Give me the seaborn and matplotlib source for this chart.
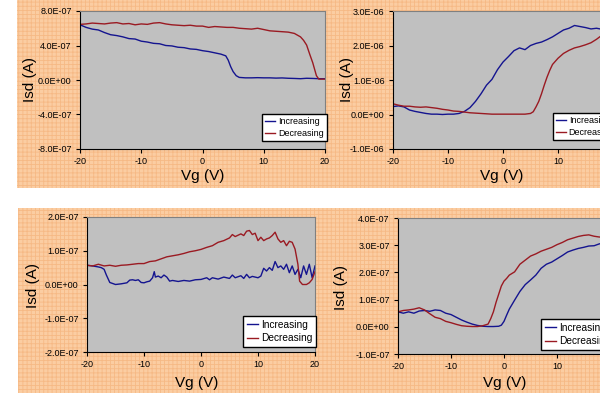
import matplotlib
matplotlib.use("Agg")
import matplotlib.pyplot as plt
from matplotlib.patches import Rectangle
from matplotlib.ticker import FuncFormatter, MultipleLocator
import numpy as np
import seaborn as sn

# ---- data (Isd in units of 1e-7 A or 1e-6 A, see *_scale) ----
# top left
tl_scale = 1e-7
tl_vg_inc = [-20, -20, -19, -18, -17, -16, -15, -14, -13, -12, -11, -10, -9, -8, -7, -6, -5, -4, -3, -2, -1,
             0, 1, 2, 3, 3.8, 4.2, 4.6, 5.0, 5.5, 6, 7, 8, 9, 10, 11, 12, 13, 14, 15, 16, 17, 18, 19, 20]
tl_isd_inc = [-5.5, 6.4, 6.1, 5.9, 5.8, 5.5, 5.25, 5.15, 5.0, 4.8, 4.75, 4.5, 4.4, 4.25, 4.2, 4.0, 3.95, 3.8, 3.75, 3.6, 3.55,
              3.4, 3.3, 3.15, 3.0, 2.8, 2.3, 1.55, 0.97, 0.5, 0.3, 0.25, 0.25, 0.27, 0.25, 0.25, 0.22, 0.24, 0.2, 0.18, 0.15, 0.2, 0.18, 0.15, 0.15]
tl_vg_dec = [-20, -19, -18, -17, -16, -15, -14, -13, -12, -11, -10, -9, -8, -7, -6, -5, -4, -3, -2, -1,
             0, 1, 2, 3, 4, 5, 6, 7, 8, 9, 10, 11, 12, 13, 14, 15, 16, 16.5, 17, 17.5, 18, 18.6, 19, 20]
tl_isd_dec = [6.45, 6.5, 6.6, 6.55, 6.5, 6.6, 6.65, 6.5, 6.55, 6.4, 6.5, 6.45, 6.6, 6.65, 6.5, 6.4, 6.35, 6.3, 6.35, 6.25,
              6.25, 6.1, 6.2, 6.15, 6.1, 6.1, 6.0, 5.95, 5.9, 6.0, 5.85, 5.7, 5.65, 5.6, 5.55, 5.4, 5.0, 4.6, 4.05, 3.0, 2.0, 0.5, 0.1, 0.1]

# top right
tr_scale = 1e-6
tr_vg_inc = [-20, -20, -19, -18, -17, -16, -15, -14, -13, -12, -11, -10, -9, -8, -7, -6, -5, -4, -3, -2, -1,
             0, 1, 2, 3, 4, 5, 6, 7, 8, 9, 10, 11, 12, 13, 14, 15, 16, 17, 18, 19, 20]
tr_isd_inc = [-1.2, 0.23, 0.25, 0.22, 0.13, 0.09, 0.06, 0.03, 0.01, 0.01, 0.0, 0.01, 0.01, 0.03, 0.09, 0.2, 0.38, 0.6, 0.85, 1.02, 1.3,
              1.52, 1.68, 1.85, 1.93, 1.88, 2.0, 2.06, 2.1, 2.17, 2.25, 2.35, 2.45, 2.5, 2.58, 2.55, 2.52, 2.48, 2.5, 2.47, 2.5, 2.48]
tr_vg_dec = [-20, -19, -18, -17, -16, -15, -14, -13, -12, -11, -10, -9, -8, -7, -6, -5, -4, -3, -2, -1,
             0, 1, 2, 3, 4, 5, 5.5, 6, 6.5, 7, 7.5, 8, 8.5, 9, 10, 11, 12, 13, 14, 15, 16, 17, 18, 19, 20]
tr_isd_dec = [0.31, 0.27, 0.24, 0.24, 0.22, 0.21, 0.22, 0.2, 0.18, 0.15, 0.13, 0.1, 0.09, 0.07, 0.05, 0.04, 0.03, 0.02, 0.01, 0.01,
              0.01, 0.01, 0.01, 0.01, 0.01, 0.03, 0.08, 0.22, 0.38, 0.6, 0.85, 1.08, 1.28, 1.45, 1.63, 1.77, 1.86, 1.93, 1.97, 2.02, 2.08, 2.18, 2.3, 2.38, 2.45]

# bottom left
bl_scale = 1e-7
bl_vg_inc = [-20, -20, -19, -18, -17.5, -17, -16.6, -16, -15, -14, -13, -12.5, -12, -11.5, -11, -10.5, -10, -9.5, -9, -8.5,
             -8.2, -8, -7.5, -7, -6.5, -6, -5.5, -5, -4, -3, -2, -1, 0, 1, 1.5, 2, 3, 4, 5, 5.5, 6, 7, 7.5, 8, 8.5, 9,
             10, 10.5, 11, 11.5, 12, 12.5, 13, 13.5, 14, 14.5, 15, 15.5, 16, 16.5, 17, 17.5, 18, 18.5, 19, 19.5, 20]
bl_isd_inc = [-2.5, 0.57, 0.55, 0.52, 0.5, 0.45, 0.28, 0.06, 0.0, 0.02, 0.05, 0.13, 0.14, 0.12, 0.14, 0.06, 0.05, 0.08, 0.1, 0.2,
              0.38, 0.22, 0.25, 0.2, 0.28, 0.22, 0.1, 0.12, 0.09, 0.12, 0.1, 0.14, 0.15, 0.2, 0.14, 0.2, 0.16, 0.22, 0.18, 0.28, 0.2, 0.26, 0.18, 0.3, 0.2, 0.24,
              0.2, 0.25, 0.48, 0.4, 0.5, 0.42, 0.68, 0.5, 0.55, 0.45, 0.6, 0.35, 0.55, 0.3, 0.45, 0.2, 0.55, 0.3, 0.6, 0.2, 0.55]
bl_vg_dec = [-20, -19, -18, -17, -16, -15, -14, -13, -12, -11, -10, -9, -8, -7, -6, -5, -4, -3, -2, -1,
             0, 1, 2, 3, 4, 5, 5.5, 6, 7, 7.5, 8, 8.5, 9, 9.5, 10, 10.5, 11, 11.5, 12, 12.5, 13, 13.5, 14, 14.5,
             15, 15.5, 16, 16.5, 17, 17.3, 17.8, 18.5, 19, 19.5, 20]
bl_isd_dec = [0.57, 0.55, 0.6, 0.55, 0.57, 0.54, 0.57, 0.58, 0.6, 0.62, 0.62, 0.68, 0.7, 0.76, 0.82, 0.85, 0.88, 0.92, 0.97, 1.0,
              1.04, 1.1, 1.15, 1.25, 1.3, 1.38, 1.48, 1.42, 1.5, 1.45, 1.58, 1.6, 1.48, 1.52, 1.3, 1.4, 1.3, 1.35, 1.38, 1.45, 1.55, 1.35, 1.25, 1.3,
              1.15, 1.28, 1.25, 1.05, 0.6, 0.1, 0.0, 0.0, 0.05, 0.15, 0.38]

# bottom right
br_scale = 1e-7
br_vg_inc = [-20, -20, -19, -18, -17, -16, -15, -14, -13, -12, -11, -10, -9, -8, -7, -6, -5, -4, -3, -2, -1, -0.5,
             0, 0.5, 1, 2, 3, 4, 5, 6, 7, 8, 9, 10, 11, 12, 13, 14, 15, 16, 17, 18, 19, 20]
br_isd_inc = [-0.3, 0.55, 0.5, 0.55, 0.5, 0.58, 0.6, 0.57, 0.62, 0.6, 0.5, 0.45, 0.35, 0.25, 0.17, 0.1, 0.05, 0.02, 0.01, 0.01, 0.02, 0.06,
              0.2, 0.43, 0.65, 0.98, 1.3, 1.55, 1.72, 1.9, 2.15, 2.3, 2.38, 2.5, 2.62, 2.75, 2.82, 2.88, 2.92, 2.97, 2.98, 3.05, 3.08, 3.12]
br_vg_dec = [-20, -19, -18, -17, -16, -15, -14, -13, -12, -11, -10, -9, -8, -7, -6, -5, -4, -3, -2.5, -2, -1.5, -1, -0.5,
             0, 0.5, 1, 2, 3, 4, 5, 6, 7, 8, 9, 10, 11, 12, 13, 14, 15, 16, 17, 18, 19, 20]
br_isd_dec = [0.55, 0.6, 0.62, 0.65, 0.7, 0.62, 0.48, 0.35, 0.3, 0.2, 0.15, 0.09, 0.04, 0.02, 0.01, 0.01, 0.04, 0.1, 0.3, 0.55, 0.9, 1.2, 1.5,
              1.68, 1.78, 1.9, 2.02, 2.3, 2.45, 2.6, 2.68, 2.78, 2.85, 2.92, 3.02, 3.1, 3.2, 3.26, 3.32, 3.36, 3.38, 3.33, 3.3, 3.32, 3.3]

W, H = 600, 393
BLUE = "#14148f"
RED = "#9a1a22"
LABEL_FONT = ["Liberation Sans", "DejaVu Sans"]


def box(x0, y0, x1, y1):
    # pixel box (top-left origin) -> figure fraction rect
    return [x0 / W, 1 - y1 / H, (x1 - x0) / W, (y1 - y0) / H]


def panel(fig, rect, vg_inc, isd_inc, vg_dec, isd_dec, scale, ylim, ystep,
          leg_xy, leg_size, xlab_xy, ylab_xy):
    ax = fig.add_axes(box(*rect))
    ax.set_facecolor("#c0c0c0")
    sn.lineplot(x=vg_inc, y=np.array(isd_inc) * scale, ax=ax, color=BLUE,
                lw=1.0, sort=False, estimator=None, label="Increasing")
    sn.lineplot(x=vg_dec, y=np.array(isd_dec) * scale, ax=ax, color=RED,
                lw=1.0, sort=False, estimator=None, label="Decreasing")
    ax.set_xlim(-20, 20)
    ax.set_ylim(*ylim)
    ax.xaxis.set_major_locator(MultipleLocator(10))
    ax.yaxis.set_major_locator(MultipleLocator(ystep))
    ax.yaxis.set_major_formatter(FuncFormatter(lambda v, p: f"{v:.1E}"))
    ax.tick_params(direction="out", length=3, width=0.8, pad=3,
                   labelsize=6.5, colors="black")
    for t in ax.get_xticklabels() + ax.get_yticklabels():
        t.set_family(LABEL_FONT)
    ax.set_xlabel("")
    ax.set_ylabel("")
    for s in ("top", "right"):
        ax.spines[s].set_color("#808080")
    for s in ("left", "bottom"):
        ax.spines[s].set_color("black")
    ax.legend(loc="upper left", bbox_to_anchor=leg_xy, borderaxespad=0,
              frameon=True, fancybox=False, edgecolor="black", framealpha=1,
              prop={"family": LABEL_FONT, "size": leg_size},
              handlelength=1.1, handletextpad=0.3, borderpad=0.35,
              labelspacing=0.35)
    fig.text(xlab_xy[0] / W, 1 - xlab_xy[1] / H, "Vg (V)", ha="center",
             va="center", fontsize=11, family=LABEL_FONT)
    fig.text(ylab_xy[0] / W, 1 - ylab_xy[1] / H, "Isd (A)", ha="center",
             va="center", fontsize=11, rotation=90, family=LABEL_FONT)
    return ax


if __name__ == "__main__":
    plt.rcParams["axes.unicode_minus"] = False
    plt.rcParams["hatch.linewidth"] = 0.6
    fig = plt.figure(figsize=(6, 3.93), dpi=100)

    # orange textured backgrounds
    for x0, y0, x1, y1 in [(17, 0, 600, 188), (18, 208, 600, 393)]:
        fig.add_artist(Rectangle((x0 / W, 1 - y1 / H), (x1 - x0) / W, (y1 - y0) / H,
                                 transform=fig.transFigure, facecolor="#fbcda2",
                                 edgecolor="#f6b985", hatch="++++", lw=0, zorder=-5))

    panel(fig, (80, 11, 325, 149), tl_vg_inc, tl_isd_inc, tl_vg_dec, tl_isd_dec,
          tl_scale, (-8e-7, 8e-7), 4e-7, (0.743, 0.254), 6.5, (203, 176), (30, 80))
    panel(fig, (393, 11, 613, 149), tr_vg_inc, tr_isd_inc, tr_vg_dec, tr_isd_dec,
          tr_scale, (-1e-6, 3e-6), 1e-6, (0.727, 0.261), 6.5, (502, 176), (347, 80))
    panel(fig, (87, 217, 315, 352), bl_vg_inc, bl_isd_inc, bl_vg_dec, bl_isd_dec,
          bl_scale, (-2e-7, 2e-7), 1e-7, (0.684, 0.267), 7.3, (197, 383), (33, 285))
    panel(fig, (398, 218, 610, 354), br_vg_inc, br_isd_inc, br_vg_dec, br_isd_dec,
          br_scale, (-1e-7, 4e-7), 1e-7, (0.675, 0.257), 7.3, (505, 383), (341, 287))

    fig.savefig("out.png", dpi=100)
